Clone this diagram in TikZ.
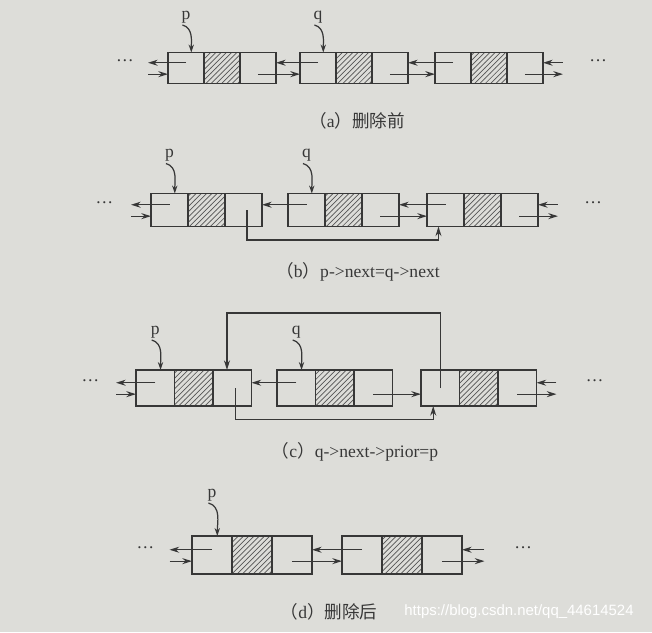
\documentclass[tikz,border=0pt]{standalone}
\usepackage{fontspec}
\setmainfont{Liberation Serif}
\newfontfamily\cjk{Noto Sans CJK SC}
\newfontfamily\wmfont{Liberation Sans}
\usetikzlibrary{positioning,patterns,arrows.meta}
\definecolor{paper}{RGB}{221,221,217}
\definecolor{ink}{RGB}{55,55,55}
\tikzset{
  cell/.style={draw=ink, line width=0.7pt, inner sep=0pt, outer sep=0pt},
  datacell/.style={cell, pattern=north east lines, pattern color=ink!85},
  link/.style={draw=ink, line width=0.7pt, -{Stealth[length=5.5pt,width=3.4pt]}},
  ptr/.style={draw=ink, line width=0.7pt, -{Stealth[length=4.5pt,width=3pt]}},
  ptrlabel/.style={inner sep=1pt, text=ink},
  dots/.style={inner sep=0pt, text=ink},
  caption/.style={text=ink},
}
\begin{document}
\begin{tikzpicture}[x=0.02cm, y=-0.02cm]
  % Paper background (fixes the size)
  \fill[paper] (0,0) rectangle (652,632);

  % ---------- (a) before deletion ----------
  \begin{scope}[cell/.append style={minimum width=0.72cm, minimum height=0.62cm}]
    % First node
    \node[cell] (a1l) at (186,68) {};
    \node[datacell, right=0pt of a1l] (a1m) {};
    \node[cell, right=0pt of a1m] (a1r) {};
    % Second node
    \node[cell] (a2l) at (318,68) {};
    \node[datacell, right=0pt of a2l] (a2m) {};
    \node[cell, right=0pt of a2m] (a2r) {};
    % Third node
    \node[cell] (a3l) at (453,68) {};
    \node[datacell, right=0pt of a3l] (a3m) {};
    \node[cell, right=0pt of a3m] (a3r) {};

    % Pointers p and q
    \node[ptrlabel, above=0.55cm of a1l.north] (ap) {p};
    \draw[ptr] ([xshift=-2pt]ap.south) to[out=-15,in=90] ([xshift=3pt]a1l.north);
    \node[ptrlabel, above=0.55cm of a2l.north] (aq) {q};
    \draw[ptr] ([xshift=-2pt]aq.south) to[out=-15,in=90] ([xshift=3pt]a2l.north);

    % Open ends
    \coordinate[left=0.4cm of a1l.west] (aw);
    \coordinate[right=0.4cm of a3r.east] (ae);
    \node[dots, left=0.68cm of a1l.west, yshift=4pt] (adl) {…};
    \node[dots, right=0.92cm of a3r.east, yshift=4pt] (adr) {…};
    \draw[link] ([yshift=3pt]a1l.center) -- ([yshift=3pt]aw);
    \draw[link] ([yshift=-3.5pt]aw) -- ([yshift=-3.5pt]a1l.west);
    \draw[link] ([yshift=3pt]ae) -- ([yshift=3pt]a3r.east);
    \draw[link] ([yshift=-3.5pt]a3r.center) -- ([yshift=-3.5pt]ae);

    % Links between nodes
    \draw[link] ([yshift=3pt]a2l.center) -- ([yshift=3pt]a1r.east);
    \draw[link] ([yshift=-3.5pt]a1r.center) -- ([yshift=-3.5pt]a2l.west);
    \draw[link] ([yshift=3pt]a3l.center) -- ([yshift=3pt]a2r.east);
    \draw[link] ([yshift=-3.5pt]a2r.center) -- ([yshift=-3.5pt]a3l.west);

    \node[caption] (capa) at (357,121) {{\cjk （}a{\cjk ）删除前}};
  \end{scope}

  % ---------- (b) p->next=q->next ----------
  \begin{scope}[cell/.append style={minimum width=0.74cm, minimum height=0.66cm}]
    % First node
    \node[cell] (b1l) at (169.5,210) {};
    \node[datacell, right=0pt of b1l] (b1m) {};
    \node[cell, right=0pt of b1m] (b1r) {};
    % Second node
    \node[cell] (b2l) at (306.5,210) {};
    \node[datacell, right=0pt of b2l] (b2m) {};
    \node[cell, right=0pt of b2m] (b2r) {};
    % Third node
    \node[cell] (b3l) at (445.5,210) {};
    \node[datacell, right=0pt of b3l] (b3m) {};
    \node[cell, right=0pt of b3m] (b3r) {};

    % Pointers p and q
    \node[ptrlabel, above=0.6cm of b1l.north] (bp) {p};
    \draw[ptr] ([xshift=-2pt]bp.south) to[out=-15,in=90] ([xshift=3pt]b1l.north);
    \node[ptrlabel, above=0.6cm of b2l.north] (bq) {q};
    \draw[ptr] ([xshift=-2pt]bq.south) to[out=-15,in=90] ([xshift=3pt]b2l.north);

    % Open ends
    \coordinate[left=0.4cm of b1l.west] (bw);
    \coordinate[right=0.4cm of b3r.east] (be);
    \node[dots, left=0.75cm of b1l.west, yshift=4pt] (bdl) {…};
    \node[dots, right=0.92cm of b3r.east, yshift=4pt] (bdr) {…};
    \draw[link] ([yshift=3pt]b1l.center) -- ([yshift=3pt]bw);
    \draw[link] ([yshift=-3.5pt]bw) -- ([yshift=-3.5pt]b1l.west);
    \draw[link] ([yshift=3pt]be) -- ([yshift=3pt]b3r.east);
    \draw[link] ([yshift=-3.5pt]b3r.center) -- ([yshift=-3.5pt]be);

    % Links between nodes
    \draw[link] ([yshift=3pt]b2l.center) -- ([yshift=3pt]b1r.east);
    \draw[link] ([yshift=3pt]b3l.center) -- ([yshift=3pt]b2r.east);
    \draw[link] ([yshift=-3.5pt]b2r.center) -- ([yshift=-3.5pt]b3l.west);
    % p->next skips q
    \coordinate[below=0.27cm of b1r.south] (bbot);
    \draw[link] ([xshift=2pt]b1r.center) -- ([xshift=2pt]bbot) -| ([xshift=-4pt]b3l.south);

    \node[caption] (capb) at (358,272) {{\cjk （}b{\cjk ）}p->next=q->next};
  \end{scope}

  % ---------- (c) q->next->prior=p ----------
  \begin{scope}[cell/.append style={minimum width=0.77cm, minimum height=0.72cm}]
    % First node
    \node[cell] (c1l) at (155.25,388) {};
    \node[datacell, right=0pt of c1l] (c1m) {};
    \node[cell, right=0pt of c1m] (c1r) {};
    % Second node
    \node[cell] (c2l) at (296.25,388) {};
    \node[datacell, right=0pt of c2l] (c2m) {};
    \node[cell, right=0pt of c2m] (c2r) {};
    % Third node
    \node[cell] (c3l) at (440.25,388) {};
    \node[datacell, right=0pt of c3l] (c3m) {};
    \node[cell, right=0pt of c3m] (c3r) {};

    % Pointers p and q
    \node[ptrlabel, above=0.6cm of c1l.north] (cp) {p};
    \draw[ptr] ([xshift=-2pt]cp.south) to[out=-15,in=90] ([xshift=3pt]c1l.north);
    \node[ptrlabel, above=0.6cm of c2l.north] (cq) {q};
    \draw[ptr] ([xshift=-2pt]cq.south) to[out=-15,in=90] ([xshift=3pt]c2l.north);

    % Open ends
    \coordinate[left=0.4cm of c1l.west] (cw);
    \coordinate[right=0.4cm of c3r.east] (ce);
    \node[dots, left=0.73cm of c1l.west, yshift=4pt] (cdl) {…};
    \node[dots, right=0.98cm of c3r.east, yshift=4pt] (cdr) {…};
    \draw[link] ([yshift=3pt]c1l.center) -- ([yshift=3pt]cw);
    \draw[link] ([yshift=-3.5pt]cw) -- ([yshift=-3.5pt]c1l.west);
    \draw[link] ([yshift=3pt]ce) -- ([yshift=3pt]c3r.east);
    \draw[link] ([yshift=-3.5pt]c3r.center) -- ([yshift=-3.5pt]ce);

    % Links between nodes
    \draw[link] ([yshift=3pt]c2l.center) -- ([yshift=3pt]c1r.east);
    \draw[link] ([yshift=-3.5pt]c2r.center) -- ([yshift=-3.5pt]c3l.west);
    % p->next skips q
    \coordinate[below=0.27cm of c1r.south] (cbot);
    \draw[link] ([xshift=2pt]c1r.center) -- ([xshift=2pt]cbot) -| ([xshift=-4pt]c3l.south);
    % q->next->prior now points to p
    \coordinate[above=1.14cm of c3l.north] (ctop);
    \draw[link] (c3l.center) -- (ctop) -| ([xshift=-3pt]c1r.north);

    \node[caption] (capc) at (355,452) {{\cjk （}c{\cjk ）}q->next->prior=p};
  \end{scope}

  % ---------- (d) after deletion ----------
  \begin{scope}[cell/.append style={minimum width=0.8cm, minimum height=0.76cm}]
    % First node
    \node[cell] (d1l) at (212,555) {};
    \node[datacell, right=0pt of d1l] (d1m) {};
    \node[cell, right=0pt of d1m] (d1r) {};
    % Second node
    \node[cell] (d2l) at (362,555) {};
    \node[datacell, right=0pt of d2l] (d2m) {};
    \node[cell, right=0pt of d2m] (d2r) {};

    % Pointer p
    \node[ptrlabel, above=0.66cm of d1l.north] (dp) {p};
    \draw[ptr] ([xshift=-2pt]dp.south) to[out=-15,in=90] ([xshift=3pt]d1l.north);

    % Open ends
    \coordinate[left=0.45cm of d1l.west] (dw);
    \coordinate[right=0.45cm of d2r.east] (de);
    \node[dots, left=0.75cm of d1l.west, yshift=4pt] (ddl) {…};
    \node[dots, right=1.04cm of d2r.east, yshift=4pt] (ddr) {…};
    \draw[link] ([yshift=3pt]d1l.center) -- ([yshift=3pt]dw);
    \draw[link] ([yshift=-3.5pt]dw) -- ([yshift=-3.5pt]d1l.west);
    \draw[link] ([yshift=3pt]de) -- ([yshift=3pt]d2r.east);
    \draw[link] ([yshift=-3.5pt]d2r.center) -- ([yshift=-3.5pt]de);

    % Links between nodes
    \draw[link] ([yshift=3pt]d2l.center) -- ([yshift=3pt]d1r.east);
    \draw[link] ([yshift=-3.5pt]d1r.center) -- ([yshift=-3.5pt]d2l.west);

    \node[caption] (capd) at (329,612) {{\cjk （}d{\cjk ）删除后}};
  \end{scope}

  % Watermark
  \node[text=white, font=\wmfont\fontsize{8.5}{10}\selectfont] (wm) at (519,612) {https://blog.csdn.net/qq\_44614524};
\end{tikzpicture}
\end{document}
